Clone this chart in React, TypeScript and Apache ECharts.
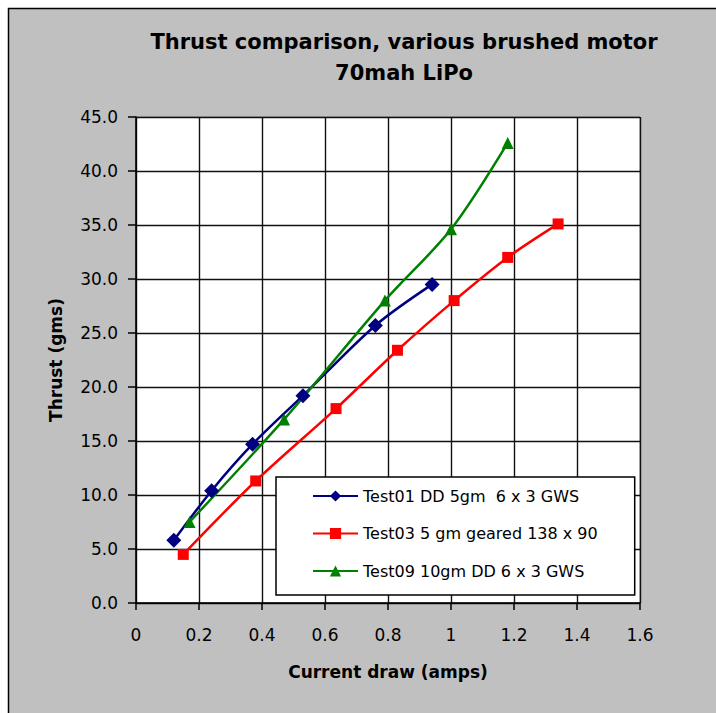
import React, { useEffect, useRef } from "react";
import * as echarts from "echarts";

const titleLines = ["Thrust comparison, various brushed motor", "70mah LiPo"];
const xAxisTitle = "Current draw (amps)";
const yAxisTitle = "Thrust (gms)";
const seriesNames = [
  "Test01 DD 5gm  6 x 3 GWS",
  "Test03 5 gm geared 138 x 90",
  "Test09 10gm DD 6 x 3 GWS",
];
const seriesColors = ["#000080", "#ff0000", "#008000"];
const seriesSymbols = ["diamond", "rect", "triangle"];
const seriesSymbolSizes = [15, 11, 12];

const test01Current = [0.12, 0.24, 0.37, 0.53, 0.76, 0.94];
const test01Thrust = [5.8, 10.4, 14.7, 19.2, 25.7, 29.5];
const test03Current = [0.15, 0.38, 0.635, 0.83, 1.01, 1.18, 1.34];
const test03Thrust = [4.5, 11.3, 18.0, 23.4, 28.0, 32.0, 35.1];
const test09Current = [0.17, 0.47, 0.79, 1.0, 1.18];
const test09Thrust = [7.5, 17.0, 28.0, 34.6, 42.6];

const xMin = 0, xMax = 1.6, xStep = 0.2;
const yMin = 0, yMax = 45, yStep = 5;

const zip = (xs: number[], ys: number[]) => xs.map((x, i) => [x, ys[i]]);

export default function App() {
  const ref = useRef<HTMLDivElement>(null);
  useEffect(() => {
    if (!ref.current) return;
    const chart = echarts.init(ref.current, undefined, { renderer: "svg" });
    const allData = [
      zip(test01Current, test01Thrust),
      zip(test03Current, test03Thrust),
      zip(test09Current, test09Thrust),
    ];
    chart.setOption({
      animation: false,
      backgroundColor: "#ffffff",
      graphic: [
        {
          type: "rect",
          z: -100,
          silent: true,
          shape: { x: 8.5, y: 8.5, width: 800, height: 800 },
          style: { fill: "#c0c0c0", stroke: "#000", lineWidth: 1.5 },
        },
        {
          type: "text",
          x: 404,
          y: 42,
          style: {
            text: titleLines[0],
            fontFamily: "DejaVu Sans",
            fontWeight: "bold",
            fontSize: 21,
            fill: "#000",
            align: "center",
            verticalAlign: "middle",
          },
        },
        {
          type: "text",
          x: 404,
          y: 73,
          style: {
            text: titleLines[1],
            fontFamily: "DejaVu Sans",
            fontWeight: "bold",
            fontSize: 21,
            fill: "#000",
            align: "center",
            verticalAlign: "middle",
          },
        },
      ],
      grid: {
        left: 136,
        top: 117,
        width: 504,
        height: 486,
        show: true,
        backgroundColor: "#ffffff",
        borderColor: "#8a8a8a",
        borderWidth: 1,
      },
      legend: {
        orient: "vertical",
        left: 276,
        top: 477,
        itemWidth: 45,
        itemHeight: 14,
        itemGap: 21.5,
        padding: [11, 37, 16, 36],
        backgroundColor: "#ffffff",
        borderColor: "#000",
        borderWidth: 1.5,
        textStyle: { fontFamily: "DejaVu Sans", fontSize: 16, color: "#000" },
        data: seriesNames,
      },
      xAxis: {
        type: "value",
        min: xMin,
        max: xMax,
        interval: xStep,
        name: xAxisTitle,
        nameLocation: "middle",
        nameGap: 60,
        nameTextStyle: { fontFamily: "DejaVu Sans", fontWeight: "bold", fontSize: 17, color: "#000" },
        axisLine: { show: true, lineStyle: { color: "#000", width: 1.5 } },
        axisTick: { show: true, inside: false, length: 7, lineStyle: { color: "#000", width: 1.5 } },
        axisLabel: { fontFamily: "DejaVu Sans", fontSize: 17, color: "#000", margin: 23 },
        splitLine: { show: true, lineStyle: { color: "#111", width: 1.4 } },
      },
      yAxis: {
        type: "value",
        min: yMin,
        max: yMax,
        interval: yStep,
        name: yAxisTitle,
        nameLocation: "middle",
        nameGap: 72,
        nameTextStyle: { fontFamily: "DejaVu Sans", fontWeight: "bold", fontSize: 17, color: "#000" },
        axisLine: { show: true, lineStyle: { color: "#000", width: 1.5 } },
        axisTick: { show: true, inside: false, length: 8, lineStyle: { color: "#000", width: 1.5 } },
        axisLabel: {
          fontFamily: "DejaVu Sans",
          fontSize: 17,
          color: "#000",
          margin: 18,
          formatter: (v: number) => v.toFixed(1),
        },
        splitLine: { show: true, lineStyle: { color: "#111", width: 1.4 } },
      },
      series: seriesNames.map((name, i) => ({
        type: "line",
        name,
        data: allData[i],
        smooth: 0.3,
        symbol: seriesSymbols[i],
        symbolSize: seriesSymbolSizes[i],
        showAllSymbol: true,
        lineStyle: { color: seriesColors[i], width: 2.5 },
        itemStyle: { color: seriesColors[i] },
      })),
    });
    return () => chart.dispose();
  }, []);
  return (
    <div
      ref={ref}
      style={{ position: "absolute", left: 0, top: 0, width: 716, height: 713 }}
    />
  );
}
